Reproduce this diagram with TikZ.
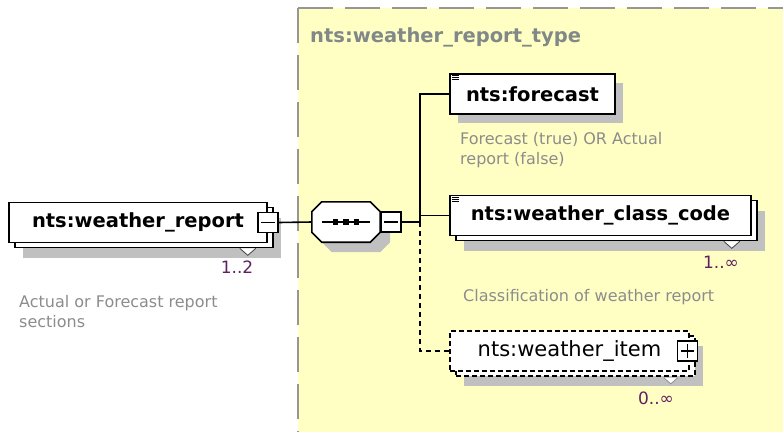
\documentclass[tikz,border=0pt]{standalone}
\usepackage{fontspec}
\setmainfont{DejaVu Sans}
\usetikzlibrary{positioning,shadows}

\definecolor{typefill}{RGB}{255,255,196}
\definecolor{typeline}{RGB}{150,150,150}
\definecolor{shadegray}{RGB}{192,192,192}
\definecolor{descgray}{RGB}{140,140,140}
\definecolor{occurs}{RGB}{96,32,96}
\definecolor{titlegray}{RGB}{128,136,136}

\tikzset{
  elem/.style={draw, fill=white, line width=1.6pt, minimum height=40pt, inner sep=0pt,
    font=\fontsize{19.5}{22}\selectfont\bfseries},
  optelem/.style={elem, dash pattern=on 5pt off 3pt, font=\fontsize{21}{24}\selectfont},
  single/.style={drop shadow={shadow xshift=8pt, shadow yshift=-9pt, fill=shadegray, opacity=1}},
  multi/.style={drop shadow={shadow xshift=14pt, shadow yshift=-15pt, fill=shadegray, opacity=1},
    copy shadow={shadow xshift=6pt, shadow yshift=-5pt, draw=black, fill=white, line width=1.6pt, #1}},
  multi/.default={},
  seqbox/.style={minimum width=68pt, minimum height=40pt, inner sep=0pt},
  expander/.style={draw, fill=white, line width=1.6pt, minimum size=20pt, inner sep=0pt},
  notch/.style={fill=white, draw=black!75, line width=0.8pt},
  desc/.style={font=\fontsize{16}{20}\selectfont, text=descgray, align=left, inner sep=0pt, anchor=north west},
  occ/.style={font=\fontsize{17}{20}\selectfont, text=occurs, inner sep=0pt},
  conn/.style={line width=1.6pt},
  optconn/.style={conn, dash pattern=on 5pt off 4pt},
}

\newcommand{\octagon}[1]{([xshift=10pt]#1.north west) -- ([xshift=-10pt]#1.north east)
  -- ([yshift=-10pt]#1.north east) -- ([yshift=10pt]#1.south east)
  -- ([xshift=-10pt]#1.south east) -- ([xshift=10pt]#1.south west)
  -- ([yshift=10pt]#1.south west) -- ([yshift=-10pt]#1.north west) -- cycle}

\begin{document}
\begin{tikzpicture}[x=1pt, y=-1pt]
  \useasboundingbox (0,0) rectangle (783,432);
  % complex type area
  \fill[typefill] (298,8) rectangle (783,432);
  \draw[typeline, line width=2pt, dash pattern=on 35pt off 12pt] (298,8) -- (298,432);
  \draw[typeline, line width=2pt, dash pattern=on 35pt off 12pt] (298,8) -- (783,8);
  \node[font=\fontsize{19.5}{22}\selectfont\bfseries, text=titlegray, anchor=west, inner sep=0pt]
    (typename) at (310,37) {nts:weather\_report\_type};

  % root element
  \node[elem, multi, minimum width=258pt] (wr) at (138,222.5) {nts:weather\_report};
  \node[expander] (wrx) at (wr.east) {};
  \draw[conn] ([xshift=4pt]wrx.west) -- ([xshift=-4pt]wrx.east);
  \filldraw[notch] ([xshift=-28pt,yshift=-5pt]wr.south east) -- ++(8,7) -- ++(8,-7);
  \node[occ] (wrocc) at (237,267) {1..2};
  \node[desc] (wrdesc) at (19,295) {Actual or Forecast report\\sections};

  % sequence
  \node[seqbox] (seq) at (346,222) {};
  \fill[shadegray, transform canvas={shift={(10pt,-10pt)}}] \octagon{seq};
  \filldraw[fill=white, line width=1.6pt] \octagon{seq};
  \draw[conn] ([xshift=10pt]seq.west) -- ([xshift=-10pt]seq.east);
  \foreach \dx in {-10.5,0,10.5}
    \fill ([xshift=\dx pt]seq.center) +(-2.7,-2.7) rectangle +(2.7,2.7);
  \node[expander, anchor=west] (seqx) at (seq.east) {};
  \draw[conn] ([xshift=4pt]seqx.west) -- ([xshift=-4pt]seqx.east);

  % children
  \node[elem, single, minimum width=165pt] (fc) at (532.5,94) {nts:forecast};
  \node[desc] (fcdesc) at (460,132) {Forecast (true) OR Actual\\report (false)};

  \node[elem, multi, minimum width=301pt] (cc) at (600.5,215.5) {nts:weather\_class\_code};
  \filldraw[notch] ([xshift=-28pt,yshift=-5pt]cc.south east) -- ++(8,7) -- ++(8,-7);
  \node[occ] (ccocc) at (721,262) {1..∞};
  \node[desc] (ccdesc) at (463,289) {Classification of weather report};

  \node[optelem, multi={dash pattern=on 5pt off 3pt}, minimum width=239pt] (wi) at (569.5,351) {nts:weather\_item};
  \node[expander] (wix) at ([xshift=-2.5pt]wi.east) {};
  \draw[conn] ([xshift=4pt]wix.west) -- ([xshift=-4pt]wix.east)
    ([yshift=-4pt]wix.north) -- ([yshift=4pt]wix.south);
  \filldraw[notch, draw=black!45] ([xshift=-26pt,yshift=-6pt]wi.south east) -- ++(7,6) -- ++(7,-6);
  \node[occ] (wiocc) at (656,398) {0..∞};

  \foreach \n in {fc,cc}
    \foreach \k in {0,1,2}
      \draw[line width=0.8pt] ([xshift=3pt, yshift={-(2.5+2*\k)*1pt}]\n.north west) -- ++(7,0);

  % connectors
  \coordinate (bus) at (420,222);
  \draw[conn] (wrx.east) -- (seq.west);
  \draw[conn] (seqx.east) -- (bus);
  \draw[conn] (bus) |- (fc.west);
  \draw[conn] (bus) |- (cc.west);
  \draw[optconn] (bus) |- (wi.west);
\end{tikzpicture}
\end{document}
